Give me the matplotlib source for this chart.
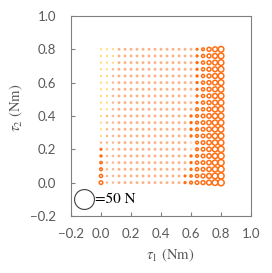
import matplotlib.pyplot as plt

plt.rcParams['mathtext.fontset'] = 'stix'

# grid of torques (Nm)
tau1 = [0.00, 0.04, 0.08, 0.12, 0.16, 0.20, 0.24, 0.28, 0.32, 0.36, 0.40,
        0.44, 0.48, 0.52, 0.56, 0.60, 0.64, 0.68, 0.72, 0.76, 0.80]
tau2 = [0.80, 0.76, 0.72, 0.68, 0.64, 0.60, 0.56, 0.52, 0.48, 0.44, 0.40,
        0.36, 0.32, 0.28, 0.24, 0.20, 0.16, 0.12, 0.08, 0.04, 0.00]

# force magnitude (N), one row per tau2 value, one column per tau1 value
force = [
    [4, 4, 4.5, 7, 7, 7, 7, 7, 7, 7, 7, 7, 7, 7, 7, 7, 7.5, 10, 13, 15, 17],
    [4, 4, 4.5, 7, 7, 7, 7, 7, 7, 7, 7, 7, 7, 7, 7, 7, 8, 11, 13, 15, 17],
    [4, 4, 4.5, 7, 7, 7, 7, 7, 7, 7, 7, 7, 7, 7, 7, 7, 8, 11, 13, 15, 17],
    [4, 4, 6, 7, 7, 7, 7, 7, 7, 7, 7, 7, 7, 7, 7, 7, 8, 11, 13, 15, 17],
    [4, 4, 6, 7, 7, 7, 7, 7, 7, 7, 7, 7, 7, 7, 7, 7, 8, 11, 13, 15, 17],
    [4, 4, 6, 7, 7, 7, 7, 7, 7, 7, 7, 7, 7, 7, 7, 7, 8, 11, 13, 15, 17],
    [4, 4, 6, 7, 7, 7, 7, 7, 7, 7, 7, 7, 7, 7, 7, 7, 8, 11, 13, 15, 17],
    [4, 4, 6, 7, 7, 7, 7, 7, 7, 7, 7, 7, 7, 7, 7, 7, 8, 11, 13, 15, 17],
    [4, 4, 6, 7, 7, 7, 7, 7, 7, 7, 7, 7, 7, 7, 7, 7, 8, 11, 13, 15, 17],
    [4, 4, 6, 7, 7, 7, 7, 7, 7, 7, 7, 7, 7, 7, 7, 7, 10, 11, 13, 16, 17],
    [4, 6, 6, 7, 7, 7, 7, 7, 7, 7, 7, 7, 7, 7, 7, 8, 10, 12, 14, 16, 17],
    [4, 6, 6, 7, 7, 7, 7, 7, 7, 7, 7, 7, 7, 7, 7, 8, 10, 12, 14, 16, 17],
    [4, 6, 6, 7, 7, 7, 7, 7, 7, 7, 7, 7, 7, 7, 7, 8, 10, 12, 14, 16, 17],
    [4, 6, 6, 7, 7, 7, 7, 7, 7, 7, 7, 7, 7, 7, 7, 8, 10, 12, 14, 16, 17],
    [6, 6, 6, 7, 7, 7, 7, 7, 7, 7, 7, 7, 7, 7, 7, 7, 10, 12, 14, 16, 17],
    [7.5, 6, 6, 7, 7, 7, 7, 7, 7, 7, 7, 7, 7, 7, 7, 7, 10, 12, 14, 16, 18],
    [8, 6, 6, 7, 7, 7, 7, 7, 7, 7, 7, 7, 7, 7, 7, 8, 10, 12, 14, 16, 18],
    [9, 6, 6, 7, 7, 7, 7, 7, 7, 7, 7, 7, 7, 7, 7, 8, 11, 12, 14, 16, 18],
    [10, 6, 6, 7, 7, 7, 7, 7, 7, 7, 7, 7, 7, 7, 7, 8, 11, 12, 14, 16, 18],
    [11, 6, 6, 7, 7, 7, 7, 7, 7, 7, 7, 7, 7, 7, 7.5, 9, 11, 13, 15, 17, 18],
    [12, 6, 6, 7, 7, 7, 7, 7, 7, 7, 7, 7, 7, 7, 8, 10, 12, 13, 15, 17, 18.5],
]

# colour class of each point: Y yellow, L light orange, P very pale, O orange
shade = [
    "YYYLLLLLLLLLLLLLOOOOO",
    "YYYLLLLLLLLLLLLLOOOOO",
    "YYYLLLLLLLLLLLLLOOOOO",
    "YYLLLLLLLLLLLLLLOOOOO",
    "YYLLLLLLLLLLLLLLOOOOO",
    "YYLLLLLLLLLLLLLLOOOOO",
    "YYLLLLLLLLLLLLLLOOOOO",
    "YYLLLLLLLLLLLLLPOOOOO",
    "YYLLLLLLLLLLLLLLOOOOO",
    "YYLLLLLLLLLLLLLLOOOOO",
    "YLLLLLLLLLLLLLLOOOOOO",
    "YLLLLLLLLLLLLLLOOOOOO",
    "YLLLLLLLLLLLLLLOOOOOO",
    "YLLLLLLLLLLLLLLOOOOOO",
    "LLLLLLLLLLLLLLLPOOOOO",
    "OLLLLLLLLLLLLLLPOOOOO",
    "OLLLLLLLLLLLLLLOOOOOO",
    "OLLLLLLLLLLLLLLOOOOOO",
    "OLLLLLLLLLLLLLLOOOOOO",
    "OLLLLLLLLLLLLLOOOOOOO",
    "OLLLLLLLLLLLLLOOOOOOO",
]

ref_force = 50  # N, size of the key circle

palette = {'Y': '#FFCC33', 'L': '#FCB48A', 'P': '#FEDCC6', 'O': '#FF6E12'}

DPI = 100
PX_PER_N = 21 / ref_force   # key circle is ~21 px across
LW = 1.1

xs, ys, sizes, cols = [], [], [], []
for r, t2 in enumerate(tau2):
    for c, t1 in enumerate(tau1):
        d_pt = force[r][c] * PX_PER_N * 72 / DPI
        xs.append(t1)
        ys.append(t2)
        sizes.append(max(d_pt - LW, 0.4) ** 2)
        cols.append(palette[shade[r][c]])

fig = plt.figure(figsize=(2.72, 2.73), dpi=DPI)
ax = fig.add_axes([0.261, 0.209, 0.662, 0.7326])

ax.scatter(xs, ys, s=sizes, facecolors='none', edgecolors=cols, linewidths=LW, zorder=3)

# key circle
key_d = ref_force * PX_PER_N * 72 / DPI
ax.scatter([-0.111], [-0.1], s=(key_d - 0.8) ** 2, facecolors='white',
           edgecolors='#404040', linewidths=0.8, zorder=3)
ax.text(-0.04, -0.1, '=50 N', fontsize=11, family='STIXGeneral',
        va='center', ha='left', color='black')

ax.set_xlim(-0.2, 1.0)
ax.set_ylim(-0.2, 1.0)
ticks = [-0.2, 0.0, 0.2, 0.4, 0.6, 0.8, 1.0]
ax.set_xticks(ticks)
ax.set_yticks(ticks)
ax.set_xticklabels([f'{t:.1f}'.replace('-', '\u2212') for t in ticks])
ax.set_yticklabels([f'{t:.1f}'.replace('-', '\u2212') for t in ticks])
ax.tick_params(direction='in', length=3, width=0.8, colors='#808080',
               labelcolor='#595959', labelsize=9.5)
ax.tick_params(axis='x', pad=9)
ax.tick_params(axis='y', pad=10.5)
for lab in ax.get_xticklabels() + ax.get_yticklabels():
    lab.set_family('Lato')
for sp in ax.spines.values():
    sp.set_color('#808080')
    sp.set_linewidth(0.8)

ax.set_xlabel(r'$\tau_1$ (Nm)', fontsize=10.5, family='STIXGeneral', color='#595959')
ax.set_ylabel(r'$\tau_2$ (Nm)', fontsize=10.5, family='STIXGeneral', color='#595959')
ax.xaxis.set_label_coords(0.55, -0.153)
ax.yaxis.set_label_coords(-0.256, 0.54)

fig.savefig('out.png', dpi=DPI)
